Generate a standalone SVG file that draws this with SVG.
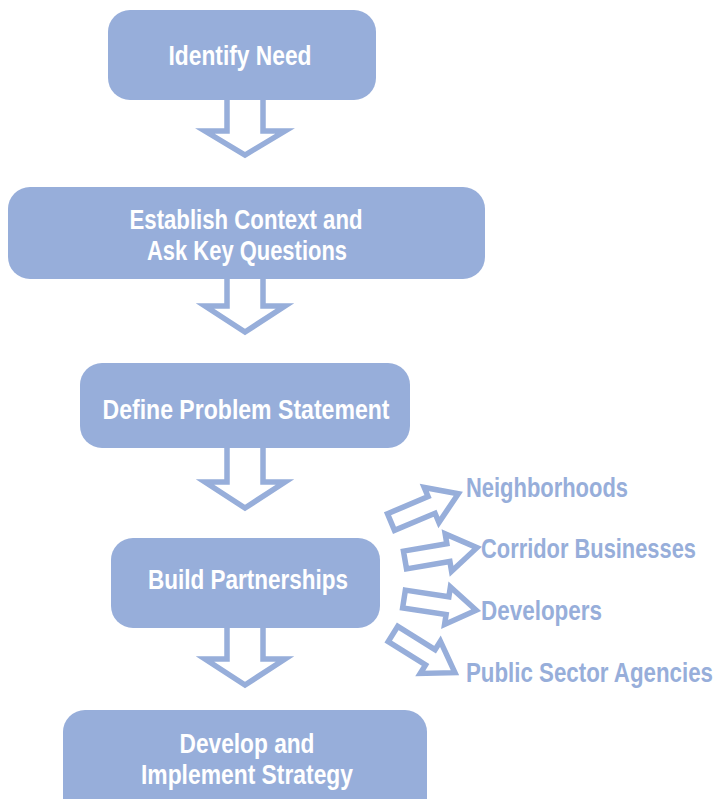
<svg xmlns="http://www.w3.org/2000/svg" width="717" height="799" viewBox="0 0 717 799">
<defs>
<style>
.box{fill:#97AEDA}
.t{font-family:"Liberation Sans",Arial,sans-serif;font-weight:bold;font-size:27px;fill:#fff;text-anchor:middle}
.lab{font-family:"Liberation Sans",Arial,sans-serif;font-weight:bold;font-size:27px;fill:#97AEDA}
.arr{fill:none;stroke:#97AEDA;stroke-width:5.5;stroke-linejoin:miter}
</style>
<path id="side" d="M0,-9 L44,-9 L44,-19 L73,0 L44,19 L44,9 L0,9 Z"/>
</defs>
<rect width="717" height="799" fill="#fff"/>
<g id="connectors">
<path class="arr" d="M227,100 L227,131 L205,131 L245,155 L285,131 L263,131 L263,100"/>
<path class="arr" d="M227,279 L227,306 L205,306 L245,332 L285,306 L263,306 L263,279"/>
<path class="arr" d="M227,448 L227,482 L205,482 L245,508 L285,482 L263,482 L263,448"/>
<path class="arr" d="M227,628 L227,659 L205,659 L245,685 L285,659 L263,659 L263,628"/>
<use href="#side" class="arr" transform="translate(391,522) rotate(-22.8)"/>
<use href="#side" class="arr" transform="translate(405,560) rotate(-9.7)"/>
<use href="#side" class="arr" transform="translate(404,599) rotate(8.8)"/>
<use href="#side" class="arr" transform="translate(393,634) rotate(32)"/>
</g>
<g id="identify-need">
<rect class="box" x="108" y="10" width="268" height="90" rx="22"/>
<text class="t" x="240" y="65" textLength="143" lengthAdjust="spacingAndGlyphs">Identify Need</text>
</g>
<g id="establish-context">
<rect class="box" x="8" y="187" width="477" height="92" rx="22"/>
<text class="t" x="246" y="229" textLength="233" lengthAdjust="spacingAndGlyphs">Establish Context and</text>
<text class="t" x="247" y="260" textLength="200" lengthAdjust="spacingAndGlyphs">Ask Key Questions</text>
</g>
<g id="define-problem">
<rect class="box" x="80" y="363" width="330" height="85" rx="22"/>
<text class="t" x="246" y="419" textLength="287" lengthAdjust="spacingAndGlyphs">Define Problem Statement</text>
</g>
<g id="build-partnerships">
<rect class="box" x="111" y="538" width="269" height="90" rx="22"/>
<text class="t" x="248" y="589" textLength="200" lengthAdjust="spacingAndGlyphs">Build Partnerships</text>
</g>
<g id="develop-strategy">
<rect class="box" x="63" y="710" width="364" height="110" rx="22"/>
<text class="t" x="247" y="753" textLength="135" lengthAdjust="spacingAndGlyphs">Develop and</text>
<text class="t" x="247" y="784" textLength="212" lengthAdjust="spacingAndGlyphs">Implement Strategy</text>
</g>
<g id="neighborhoods"><text class="lab" x="466" y="497" textLength="162" lengthAdjust="spacingAndGlyphs">Neighborhoods</text></g>
<g id="corridor-businesses"><text class="lab" x="481" y="558" textLength="215" lengthAdjust="spacingAndGlyphs">Corridor Businesses</text></g>
<g id="developers"><text class="lab" x="481" y="620" textLength="121" lengthAdjust="spacingAndGlyphs">Developers</text></g>
<g id="public-sector"><text class="lab" x="466" y="682" textLength="247" lengthAdjust="spacingAndGlyphs">Public Sector Agencies</text></g>
</svg>
